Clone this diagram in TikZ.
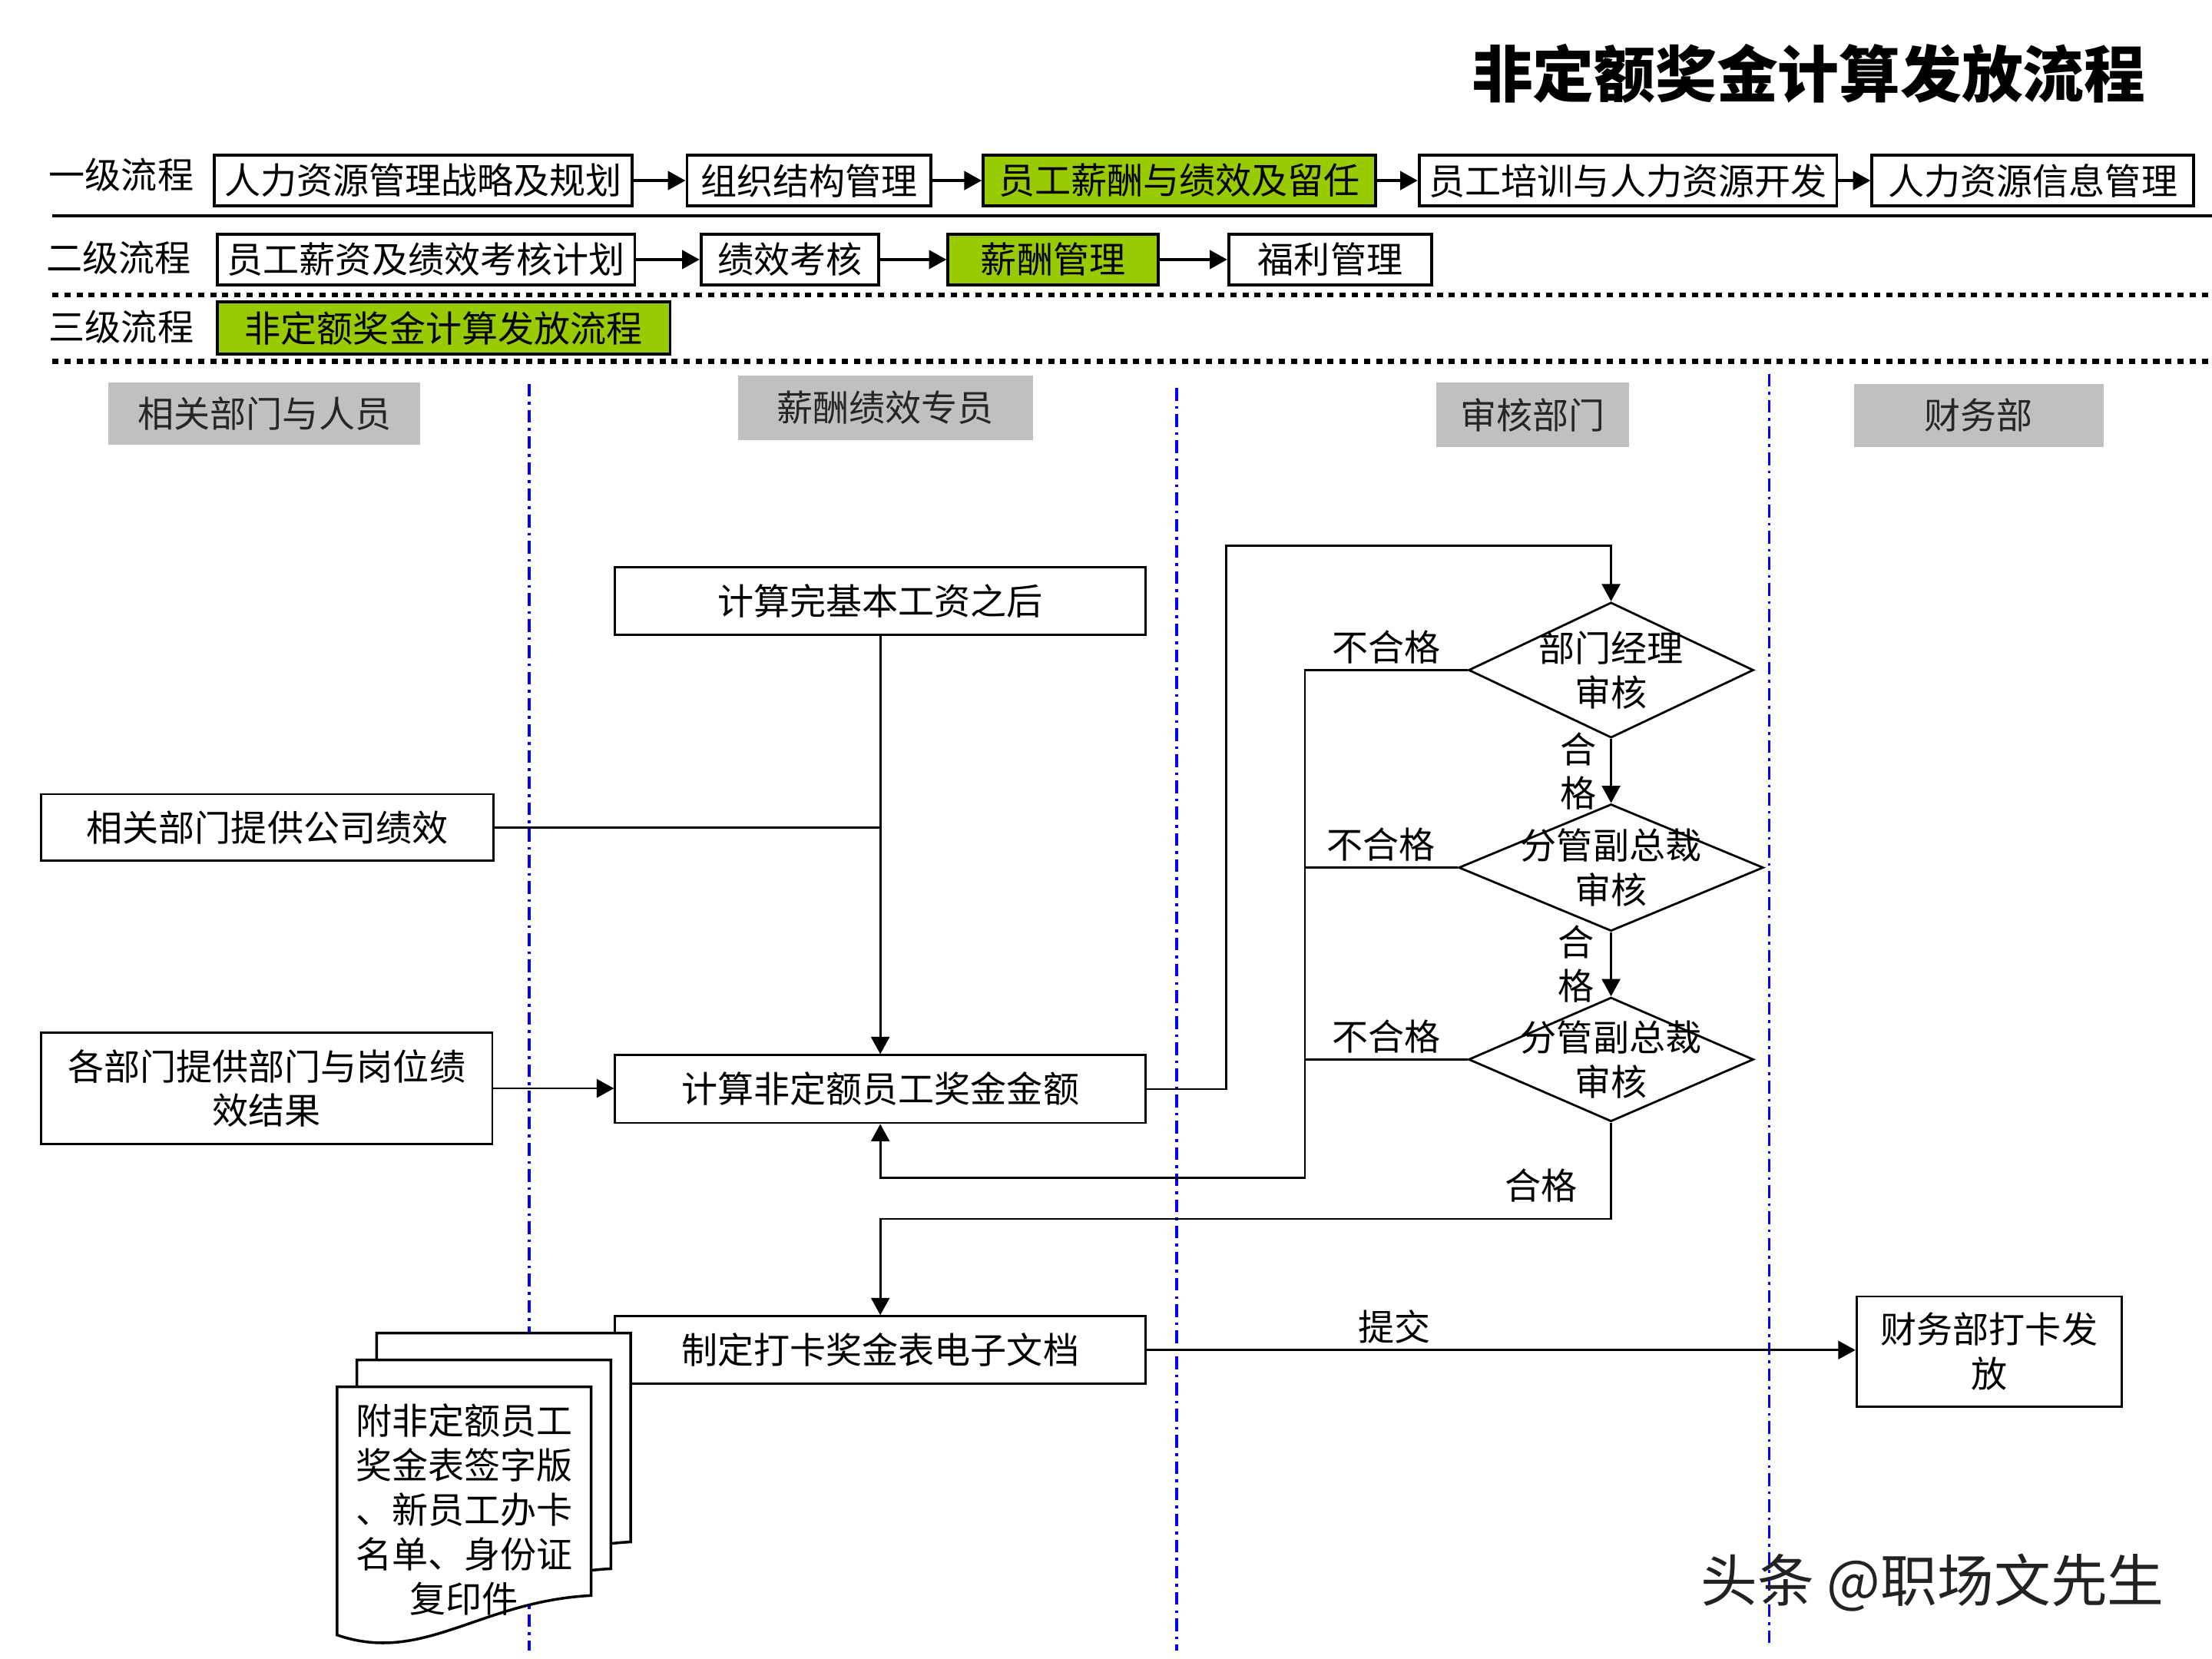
\documentclass[tikz,border=0pt]{standalone}
\usepackage{fontspec}
\setmainfont{Noto Sans CJK SC}
\usetikzlibrary{arrows.meta,shapes.geometric}
\def\pxu{0.0183673cm}
\newcommand\mainfs{\fontsize{13.4pt}{16.3pt}\selectfont}
\definecolor{lgreen}{HTML}{99CC00}
\definecolor{hgray}{HTML}{C0C0C0}
\definecolor{wmark}{HTML}{222222}
\begin{document}
\begin{tikzpicture}[x=\pxu, y=-\pxu,
  topbox/.style={draw, line width=1.1pt, minimum height=36*\pxu, inner sep=0pt, font=\mainfs},
  greenbox/.style={topbox, fill=lgreen},
  toparr/.style={line width=1.3pt, -{Triangle[length=6.5pt,width=6.8pt]}},
  mainbox/.style={draw, line width=0.8pt, inner sep=0pt, align=center, font=\mainfs, fill=white},
  conn/.style={line width=0.8pt},
  arr/.style={conn, -{Triangle[length=6.4pt,width=6.8pt]}},
  lanehead/.style={fill=hgray, inner sep=0pt, font=\mainfs, text=black!85},
  lanesep/.style={blue, line width=1pt, dash pattern=on 4.7pt off 2pt on 1pt off 2pt},
  dec/.style={draw, diamond, line width=0.8pt, inner sep=0pt},
  lbl/.style={font=\mainfs, inner sep=2pt, align=center},
  rowlbl/.style={font=\mainfs, inner sep=0pt},
  doc/.style={draw, line width=1pt, fill=white}]
\useasboundingbox (0,0) rectangle (1568,1176);

% title
\node[font=\fontsize{22.7pt}{27pt}\selectfont\bfseries] (title) at (1282,52) {非定额奖金计算发放流程};

% row labels
\node[rowlbl] (r1) at (86,124) {一级流程};
\node[rowlbl] (r2) at (84,183) {二级流程};
\node[rowlbl] (r3) at (86,232) {三级流程};

% row 1
\node[topbox, minimum width=296*\pxu] (b11) at (300,128) {人力资源管理战略及规划};
\node[topbox, minimum width=173*\pxu] (b12) at (573.5,128) {组织结构管理};
\node[greenbox, minimum width=278*\pxu] (b13) at (836,128) {员工薪酬与绩效及留任};
\node[topbox, minimum width=296*\pxu] (b14) at (1154,128) {员工培训与人力资源开发};
\node[topbox, minimum width=228*\pxu] (b15) at (1441,128) {人力资源信息管理};
\draw[toparr] (b11) -- (b12);
\draw[toparr] (b12) -- (b13);
\draw[toparr] (b13) -- (b14);
\draw[toparr] (b14) -- (b15);

% row 2
\node[topbox, minimum width=296*\pxu] (b21) at (302,184) {员工薪资及绩效考核计划};
\node[topbox, minimum width=126*\pxu] (b22) at (560,184) {绩效考核};
\node[greenbox, minimum width=149*\pxu] (b23) at (746.5,184) {薪酬管理};
\node[topbox, minimum width=144*\pxu] (b24) at (943,184) {福利管理};
\draw[toparr] (b21) -- (b22);
\draw[toparr] (b22) -- (b23);
\draw[toparr] (b23) -- (b24);

% row 3
\node[greenbox, minimum width=321*\pxu, minimum height=37*\pxu] (b31) at (314.5,232.5) {非定额奖金计算发放流程};

% separators
\draw[line width=1.3pt] (37,153) -- (1568,153);
\draw[line width=1.9pt, dash pattern=on 2.3pt off 2.2pt] (37,209) -- (1568,209);
\draw[line width=1.9pt, dash pattern=on 2.3pt off 2.2pt] (37,256) -- (1568,256);

% lane headers
\node[lanehead, minimum width=221*\pxu, minimum height=44*\pxu] (h1) at (187.5,293) {相关部门与人员};
\node[lanehead, minimum width=209*\pxu, minimum height=46*\pxu] (h2) at (627.5,289) {薪酬绩效专员};
\node[lanehead, minimum width=137*\pxu, minimum height=46*\pxu] (h3) at (1086.5,294) {审核部门};
\node[lanehead, minimum width=177*\pxu, minimum height=45*\pxu] (h4) at (1402.5,294.5) {财务部};

% lane separators
\draw[lanesep] (375,272) -- (375,1170);
\draw[lanesep] (834,275) -- (834,1170);
\draw[lanesep] (1254,265) -- (1254,1165);

% main nodes
\node[mainbox, minimum width=376*\pxu, minimum height=48*\pxu] (n1) at (624,426) {计算完基本工资之后};
\node[mainbox, minimum width=321*\pxu, minimum height=47*\pxu] (n2) at (189.5,586.5) {相关部门提供公司绩效};
\node[mainbox, minimum width=320*\pxu, minimum height=79*\pxu] (n3) at (189,771.5) {各部门提供部门与岗位绩\\效结果};
\node[mainbox, minimum width=376*\pxu, minimum height=48*\pxu] (n4) at (624,772) {计算非定额员工奖金金额};
\node[mainbox, minimum width=376*\pxu, minimum height=48*\pxu] (n5) at (624,957) {制定打卡奖金表电子文档};
\node[mainbox, minimum width=188*\pxu, minimum height=78*\pxu] (n6) at (1410,958) {财务部打卡发\\放};

\node[dec, minimum width=202*\pxu, minimum height=96*\pxu] (d1) at (1142,475) {};
\node[dec, minimum width=216*\pxu, minimum height=90*\pxu] (d2) at (1142,615) {};
\node[dec, minimum width=202*\pxu, minimum height=88*\pxu] (d3) at (1142,751) {};
\node[lbl] (d1t) at (d1.center) {部门经理\\审核};
\node[lbl] (d2t) at (d2.center) {分管副总裁\\审核};
\node[lbl] (d3t) at (d3.center) {分管副总裁\\审核};

% document stack
\foreach \dx/\dy in {28/-38, 14/-19, 0/0} {
  \begin{scope}[shift={(\dx,\dy)}]
    \draw[doc] (239,983) -- (419,983) -- (419,1131) .. controls (340,1135) and (300,1180) .. (239,1159) -- cycle;
  \end{scope}
}
\node[lbl, font=\fontsize{13.4pt}{16.5pt}\selectfont] (doct) at (329,1070) {附非定额员工\\奖金表签字版\\、新员工办卡\\名单、身份证\\复印件};

% connectors
\coordinate (u1) at (869,387);
\coordinate (r1a) at (925,475);
\coordinate (r1b) at (925,835);
\coordinate (m1) at (0,864);

\draw[arr] (n1.south) -- (n4.north);
\draw[conn] (n2.east) -- (n2.east -| n1.south);
\draw[arr] (n3.east) -- (n3.east -| n4.west);
\draw[arr] (n4.east) -| (u1) -| (d1.north);
\draw[arr] (d1.west) -- node[lbl, above] {不合格} (r1a) -- (r1b) -| (n4.south);
\draw[conn] (d2.west) -- node[lbl, above] {不合格} (d2.west -| r1a);
\draw[conn] (d3.west) -- node[lbl, above] {不合格} (d3.west -| r1a);
\draw[arr] (d1.south) -- node[lbl, left, inner sep=5pt] {合\\格} (d2.north);
\draw[arr] (d2.south) -- node[lbl, left, inner sep=6pt] {合\\格} (d3.north);
\draw[arr] (d3.south) -- node[lbl, left, pos=0.65, inner sep=12pt] {合格} (d3.south |- m1) -| (n5.north);
\draw[arr] (n5.east) -- node[lbl, above, pos=0.35] {提交} (n5.east -| n6.west);

% watermark
\node[font=\fontsize{21pt}{25pt}\selectfont, text=wmark] (wm) at (1370,1122) {头条 @职场文先生};
\end{tikzpicture}
\end{document}
